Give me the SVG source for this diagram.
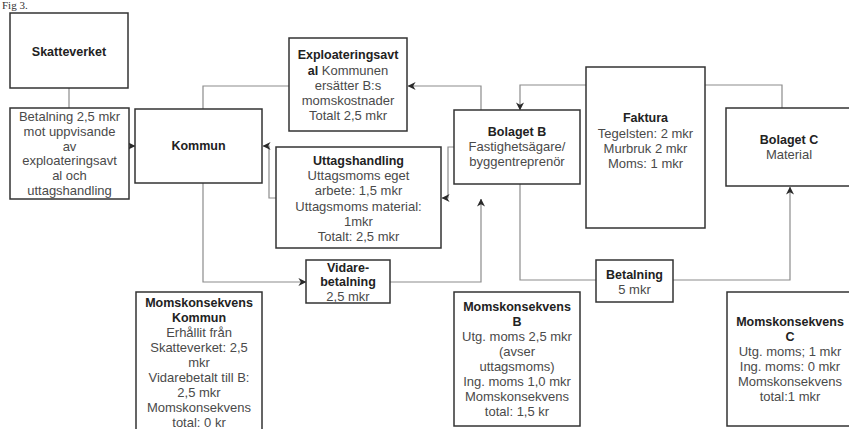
<svg xmlns="http://www.w3.org/2000/svg" width="849" height="429" viewBox="0 0 849 429">
  <style>
    .box { fill: #ffffff; stroke: #333333; stroke-width: 1.5; }
    .wire { fill: none; stroke: #8c8c8c; stroke-width: 1.2; }
    text { font-family: "Liberation Sans", Arial, sans-serif; text-anchor: middle; }
    .t { font-size: 13px; fill: #4a4a4a; }
    .b { font-size: 12.5px; font-weight: bold; fill: #222222; }
    .cap { font-family: "Liberation Serif", serif; font-size: 11px; fill: #333333; text-anchor: start; }
  </style>
  <defs>
    <marker id="arrow" viewBox="0 0 10 10" refX="9.5" refY="5" markerWidth="8" markerHeight="8" markerUnits="userSpaceOnUse" orient="auto">
      <path d="M0,0 L10,5 L0,10 L3,5 z" fill="#2a2a2a"/>
    </marker>
  </defs>

  <!-- figure caption above the first box -->
  <text class="cap" x="2" y="9">Fig 3.</text>

  <!-- connectors -->
  <g id="connectors">
    <path class="wire" d="M69,88 V108"/>
    <path class="wire" d="M129,146 H135" marker-end="url(#arrow)"/>
    <path class="wire" d="M289,86 H203 V109"/>
    <path class="wire" d="M481,110 V86 H408" marker-end="url(#arrow)"/>
    <path class="wire" d="M276,198 H269 V146 H263" marker-end="url(#arrow)"/>
    <path class="wire" d="M454,147 H448 V198 H442" marker-end="url(#arrow)"/>
    <path class="wire" d="M586,85 H520 V110" marker-end="url(#arrow)"/>
    <path class="wire" d="M705,85 H782 V108"/>
    <path class="wire" d="M203,183 V282 H306" marker-end="url(#arrow)"/>
    <path class="wire" d="M390,282 H481 V199" marker-end="url(#arrow)"/>
    <path class="wire" d="M520,184 V280 H596"/>
    <path class="wire" d="M673,280 H790 V187" marker-end="url(#arrow)"/>
  </g>

  <g id="skatteverket">
    <rect class="box" x="10" y="13" width="118" height="75"/>
    <text class="b" x="69" y="56">Skatteverket</text>
  </g>

  <g id="betalning-skatteverket">
    <rect class="box" x="10" y="108" width="119" height="91"/>
    <text class="t" x="69.5" y="121">Betalning 2,5 mkr</text>
    <text class="t" x="69.5" y="136">mot uppvisande</text>
    <text class="t" x="69.5" y="151">av</text>
    <text class="t" x="69.5" y="165">exploateringsavt</text>
    <text class="t" x="69.5" y="180">al och</text>
    <text class="t" x="69.5" y="195">uttagshandling</text>
  </g>

  <g id="kommun">
    <rect class="box" x="135" y="109" width="127" height="74"/>
    <text class="b" x="198.5" y="150">Kommun</text>
  </g>

  <g id="exploateringsavtal">
    <rect class="box" x="289" y="38" width="118" height="93"/>
    <text class="b" x="348" y="59">Exploateringsavt</text>
    <text x="348" y="75"><tspan class="b">al</tspan><tspan class="t"> Kommunen</tspan></text>
    <text class="t" x="348" y="90">ersätter B:s</text>
    <text class="t" x="348" y="105">momskostnader</text>
    <text class="t" x="348" y="120">Totalt 2,5 mkr</text>
  </g>

  <g id="uttagshandling">
    <rect class="box" x="276" y="147" width="165" height="101"/>
    <text class="b" x="358.5" y="165">Uttagshandling</text>
    <text class="t" x="358.5" y="180">Uttagsmoms eget</text>
    <text class="t" x="358.5" y="195">arbete: 1,5 mkr</text>
    <text class="t" x="358.5" y="211">Uttagsmoms material:</text>
    <text class="t" x="358.5" y="226">1mkr</text>
    <text class="t" x="358.5" y="241">Totalt: 2,5 mkr</text>
  </g>

  <g id="bolaget-b">
    <rect class="box" x="454" y="110" width="126" height="74"/>
    <text class="b" x="517" y="136">Bolaget B</text>
    <text class="t" x="517" y="151">Fastighetsägare/</text>
    <text class="t" x="517" y="166">byggentreprenör</text>
  </g>

  <g id="faktura">
    <rect class="box" x="586" y="67" width="119" height="161"/>
    <text class="b" x="645.5" y="122">Faktura</text>
    <text class="t" x="645.5" y="138">Tegelsten: 2 mkr</text>
    <text class="t" x="645.5" y="153">Murbruk 2 mkr</text>
    <text class="t" x="645.5" y="168">Moms: 1 mkr</text>
  </g>

  <g id="bolaget-c">
    <rect class="box" x="726" y="108" width="127" height="78"/>
    <text class="b" x="789" y="144">Bolaget C</text>
    <text class="t" x="789" y="159">Material</text>
  </g>

  <g id="vidarebetalning">
    <rect class="box" x="306" y="260" width="84" height="43"/>
    <text class="b" x="348" y="272">Vidare-</text>
    <text class="b" x="348" y="286">betalning</text>
    <text class="t" x="348" y="301">2,5 mkr</text>
  </g>

  <g id="betalning-c">
    <rect class="box" x="596" y="260" width="77" height="42"/>
    <text class="b" x="634.5" y="279">Betalning</text>
    <text class="t" x="634.5" y="294">5 mkr</text>
  </g>

  <g id="moms-kommun">
    <rect class="box" x="136" y="292" width="126" height="145"/>
    <text class="b" x="199" y="307">Momskonsekvens</text>
    <text class="b" x="199" y="322">Kommun</text>
    <text class="t" x="199" y="337">Erhållit från</text>
    <text class="t" x="199" y="352">Skatteverket: 2,5</text>
    <text class="t" x="199" y="367">mkr</text>
    <text class="t" x="199" y="382">Vidarebetalt till B:</text>
    <text class="t" x="199" y="397">2,5 mkr</text>
    <text class="t" x="199" y="412">Momskonsekvens</text>
    <text class="t" x="199" y="427">total: 0 kr</text>
  </g>

  <g id="moms-b">
    <rect class="box" x="454" y="292" width="126" height="134"/>
    <text class="b" x="517" y="311">Momskonsekvens</text>
    <text class="b" x="517" y="326">B</text>
    <text class="t" x="517" y="341">Utg. moms 2,5 mkr</text>
    <text class="t" x="517" y="356">(avser</text>
    <text class="t" x="517" y="371">uttagsmoms)</text>
    <text class="t" x="517" y="386">Ing. moms 1,0 mkr</text>
    <text class="t" x="517" y="401">Momskonsekvens</text>
    <text class="t" x="517" y="416">total: 1,5 kr</text>
  </g>

  <g id="moms-c">
    <rect class="box" x="727" y="292" width="126" height="134"/>
    <text class="b" x="790" y="326">Momskonsekvens</text>
    <text class="b" x="790" y="341">C</text>
    <text class="t" x="790" y="356">Utg. moms; 1 mkr</text>
    <text class="t" x="790" y="371">Ing. moms: 0 mkr</text>
    <text class="t" x="790" y="386">Momskonsekvens</text>
    <text class="t" x="790" y="401">total:1 mkr</text>
  </g>
</svg>
